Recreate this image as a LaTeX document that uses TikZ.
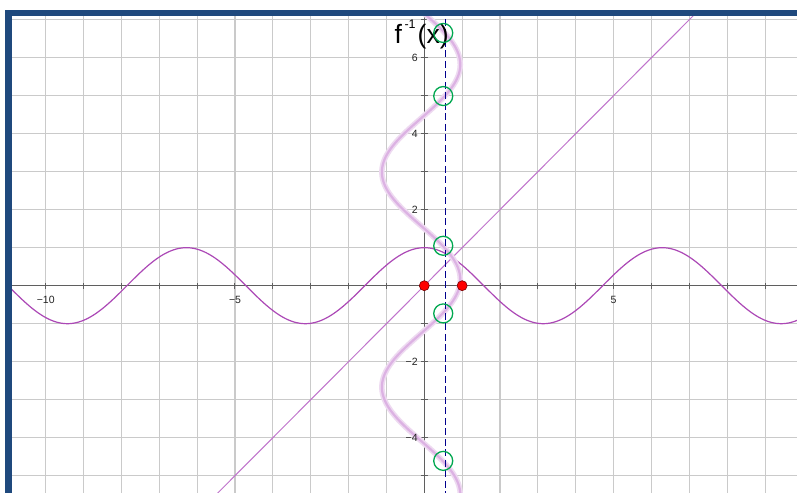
\documentclass[tikz,border=0pt]{standalone}
\usepackage{fontspec}
\setmainfont{Liberation Sans}
\definecolor{gridc}{RGB}{202,202,202}
\definecolor{axisc}{RGB}{95,95,95}
\definecolor{cosc}{RGB}{172,72,182}
\definecolor{linec}{RGB}{192,115,204}
\definecolor{invglow}{RGB}{238,218,241}
\definecolor{invcore}{RGB}{220,178,227}
\definecolor{dashc}{RGB}{0,0,140}
\definecolor{ringc}{RGB}{0,168,80}
\definecolor{redc}{RGB}{255,0,0}
\definecolor{redline}{RGB}{120,0,0}
\definecolor{barblue}{RGB}{31,73,125}
\definecolor{labc}{RGB}{35,35,35}
\begin{document}
\begin{tikzpicture}[x=37.86pt,y=38pt,
  gridline/.style={draw=gridc,line width=1.1pt},
  axisline/.style={draw=axisc,line width=1pt},
  tickmark/.style={draw=axisc,line width=1pt},
  ticklab/.style={font=\fontsize{10.5}{12}\selectfont,text=labc,inner sep=0pt},
  ring/.style={circle,draw=ringc,line width=1.3pt,minimum size=19pt,inner sep=0pt},
  redpt/.style={circle,fill=redc,draw=redline,line width=0.6pt,minimum size=10pt,inner sep=0pt}]
\useasboundingbox (-11.207,-5.455) rectangle (9.844,7.518);
\fill[white] (-11.207,-5.455) rectangle (9.844,7.518);
\begin{scope}
\clip (-10.89,-5.455) rectangle (9.844,7.097);
\foreach \i in {-11,...,9} \draw[gridline] (\i,-6) -- (\i,8);
\foreach \j in {-6,...,7} \draw[gridline] (-12,\j) -- (10,\j);
\coordinate (xl) at (-11,0); \coordinate (xr) at (10,0);
\coordinate (yb) at (0,-6); \coordinate (yt) at (0,8);
\draw[axisline] (xl) -- (xr);
\draw[axisline] (yb) -- (yt);
\foreach \i in {-10,...,9} \draw[tickmark] (\i,-3pt) -- (\i,3pt);
\foreach \j in {-5,...,7} \draw[tickmark] (-3.5pt,\j) -- (3.5pt,\j);
% cos curve
\draw[cosc,line width=1.2pt] plot[domain=-10.95:9.9,samples=400,smooth] (\x,{cos(\x r)});
% line y = x
\coordinate (lb) at (-5.6,-5.6); \coordinate (lt) at (7.3,7.3);
\draw[linec,line width=1pt] (lb) -- (lt);
% inverse
\draw[invglow,line width=5.5pt] plot[domain=-5.6:7.3,samples=300,smooth,variable=\t] ({-0.085+1.035*cos(360*(\t-0.16)/5.66)},\t);
\draw[invcore,line width=2.2pt] plot[domain=-5.6:7.3,samples=300,smooth,variable=\t] ({-0.085+1.035*cos(360*(\t-0.16)/5.66)},\t);
% dashed line
\coordinate (db) at (0.565,-5.6); \coordinate (dt) at (0.565,7.3);
\draw[dashc,line width=1pt,dash pattern=on 7pt off 3.5pt] (dt) -- (db);
\end{scope}
% labels
\node[ticklab] (lm10) at (-10,-0.37) {−10};
\node[ticklab] (lm5) at (-5,-0.37) {−5};
\node[ticklab] (l5) at (5,-0.37) {5};
\foreach \v/\t in {6/6,4/4,2/2,-2/−2,-4/−4}
  \node[ticklab,anchor=east] (ly\v) at (-0.17,\v) {\t};
% title
\node[anchor=base west,inner sep=0pt,font=\fontsize{26.5}{30}\selectfont] (title) at (-0.787,6.379) {f\kern2.5pt\raisebox{15pt}{\fontsize{12.5}{12.5}\selectfont -1}\kern2pt(x)};
% rings
\node[ring] (c1) at (0.5,6.65) {};
\node[ring] (c2) at (0.5,4.99) {};
\node[ring] (c3) at (0.5,1.05) {};
\node[ring] (c4) at (0.5,-0.73) {};
\node[ring] (c5) at (0.5,-4.61) {};
% red points
\node[redpt] (p0) at (0,0) {};
\node[redpt] (p1) at (1,0) {};
% frame bars
\fill[barblue] (-11.075,7.097) rectangle (9.844,7.255);
\fill[barblue] (-11.075,-5.455) rectangle (-10.89,7.255);
\end{tikzpicture}
\end{document}
